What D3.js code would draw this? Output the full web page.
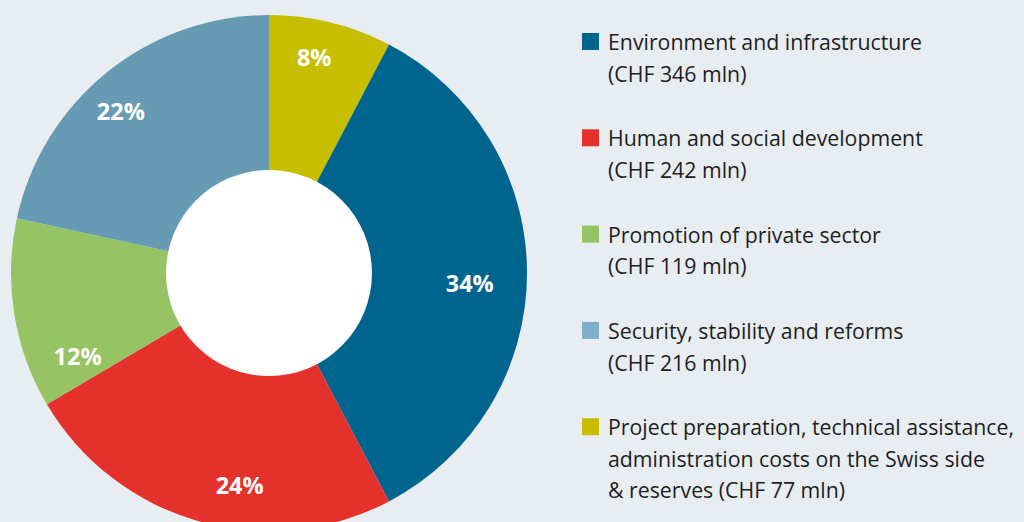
<!DOCTYPE html>
<html>
<head>
<meta charset="utf-8">
<script src="https://cdn.jsdelivr.net/npm/d3@7"></script>
<style>
  html, body { margin: 0; padding: 0; background: #e8edf1; }
  svg { display: block; }
  text { font-family: "Open Sans", "Noto Sans", sans-serif; }
</style>
</head>
<body>
<svg id="chart" width="1024" height="522"></svg>
<script>
// ---- data (clockwise from 12 o'clock) ----
const categories = [
  "Project preparation, technical assistance, administration costs on the Swiss side & reserves",
  "Environment and infrastructure",
  "Human and social development",
  "Promotion of private sector",
  "Security, stability and reforms"
];
const valuesCHF = [77, 346, 242, 119, 216];
const percentLabels = ["8%", "34%", "24%", "12%", "22%"];

// legend order and text lines
const legendOrder = [1, 2, 3, 4, 0];
const legendLines = [
  ["Project preparation, technical assistance,", "administration costs on the Swiss side", "& reserves (CHF 77 mln)"],
  ["Environment and infrastructure", "(CHF 346 mln)"],
  ["Human and social development", "(CHF 242 mln)"],
  ["Promotion of private sector", "(CHF 119 mln)"],
  ["Security, stability and reforms", "(CHF 216 mln)"]
];

// ---- styles ----
const sliceColors  = ["#c8be00", "#00658e", "#e5312b", "#96c364", "#679bb3"];
const legendColors = ["#c8be00", "#00658e", "#e5312b", "#96c364", "#7fb0cb"];
const labelAngleNudge = [-2, 3, -8, -14.5, -3.7];   // degrees
const labelRadiusNudge = [6, -13, 1, -5, 5];        // px

const svg = d3.select("#chart");
const cx = 269, cy = 273, rOuter = 258, rInner = 103, rLabel = 214;

const pie = d3.pie().sort(null).value(d => d)
  .startAngle(0).endAngle(2 * Math.PI);
const arcs = pie(valuesCHF);

const arc = d3.arc().innerRadius(0).outerRadius(rOuter);
const g = svg.append("g").attr("transform", `translate(${cx},${cy})`);

g.selectAll("path.slice").data(arcs).join("path")
  .attr("class", "slice")
  .attr("d", arc)
  .attr("fill", (d, i) => sliceColors[i]);

g.append("circle").attr("r", rInner).attr("fill", "#ffffff");

g.selectAll("text.pct").data(arcs).join("text")
  .attr("class", "pct")
  .attr("transform", (d, i) => {
    const a = (d.startAngle + d.endAngle) / 2 + labelAngleNudge[i] * Math.PI / 180;
    const r = rLabel + labelRadiusNudge[i];
    return `translate(${r * Math.sin(a)},${-r * Math.cos(a)})`;
  })
  .attr("text-anchor", "middle")
  .attr("dy", "0.36em")
  .attr("fill", "#ffffff")
  .attr("font-weight", 700)
  .attr("font-size", 23.5)
  .text((d, i) => percentLabels[i]);

// ---- legend ----
const legendX = 582, legendY0 = 50, legendStep = 96.3, lineH = 31.6;
const lg = svg.append("g");
legendOrder.forEach((idx, k) => {
  const y = legendY0 + k * legendStep;
  lg.append("rect")
    .attr("x", legendX).attr("y", y - 17)
    .attr("width", 17).attr("height", 17)
    .attr("fill", legendColors[idx]);
  const t = lg.append("text")
    .attr("x", legendX + 26).attr("y", y)
    .attr("fill", "#1e1e1e")
    .attr("font-size", 21.3);
  legendLines[idx].forEach((line, j) => {
    t.append("tspan").attr("x", legendX + 26).attr("y", y + j * lineH).text(line);
  });
});
</script>
</body>
</html>
